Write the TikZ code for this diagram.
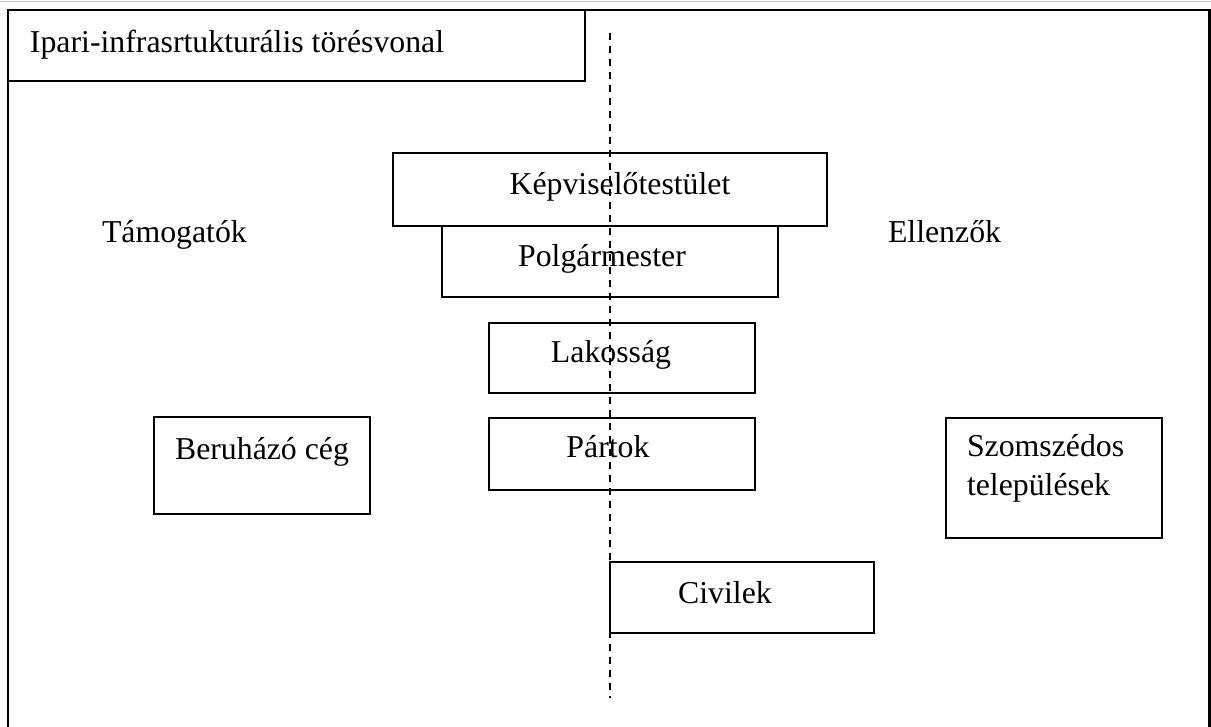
\documentclass[tikz,border=0pt]{standalone}
\usepackage{fontspec}
\setmainfont{Liberation Serif}
\begin{document}
\begin{tikzpicture}[x=0.5pt,y=-0.5pt,
  box/.style={draw=black,line width=1.4pt,rectangle,inner sep=0pt,outer sep=0pt},
  txt/.style={inner sep=0pt,outer sep=0pt,font=\fontsize{15.9}{19}\selectfont},
  divider/.style={line width=1.2pt,dash pattern=on 3.5pt off 3pt},
  frame/.style={line width=1.2pt}]
\useasboundingbox (0,0) rectangle (1211,727);
% faint top edge
\coordinate (el) at (0,1.5);
\coordinate (er) at (1211,1.5);
\draw[gray!45,line width=0.6pt] (el) -- (er);
% outer frame
\coordinate (tl) at (8,10);
\coordinate (tr) at (1209.5,10);
\coordinate (br) at (1209.5,727);
\coordinate (bl) at (8,727);
\draw[frame] (bl) -- (tl) -- (tr) -- (br);
% title box
\node[box,minimum width=288.5pt,minimum height=35.5pt] (title) at (296.5,45.5) {};
\node[txt,anchor=base west] (titlet) at (30,53) {Ipari-infrasrtukturális törésvonal};
% boxes
\node[box,minimum width=217pt,minimum height=36.5pt] (kep) at (610,189.5) {};
\node[box,minimum width=168pt,minimum height=35.5pt] (pol) at (610,261.5) {};
\node[box,minimum width=133pt,minimum height=35pt] (lak) at (622,358) {};
\node[box,minimum width=133pt,minimum height=36pt] (par) at (622,454) {};
\node[box,minimum width=108pt,minimum height=48.5pt] (ber) at (262,465.5) {};
\node[box,minimum width=108pt,minimum height=60pt] (szo) at (1054,478) {};
\node[box,minimum width=132pt,minimum height=35.5pt] (civ) at (742,597.5) {};
% texts
\node[txt,anchor=base] (kept) at (620,195) {Képviselőtestület};
\node[txt,anchor=base] (polt) at (602,267) {Polgármester};
\node[txt,anchor=base] (lakt) at (611,363) {Lakosság};
\node[txt,anchor=base] (part) at (608,458) {Pártok};
\node[txt,anchor=base] (bert) at (262,459) {Beruházó cég};
\node[txt,anchor=base west] (szot1) at (967,457) {Szomszédos};
\node[txt,anchor=base west] (szot2) at (967,495) {települések};
\node[txt,anchor=base] (civt) at (725,603) {Civilek};
\node[txt,anchor=base west] (tam) at (102,243) {Támogatók};
\node[txt,anchor=base west] (ell) at (888,243) {Ellenzők};
% dashed divider
\coordinate (dtop) at (610,33);
\coordinate (dbot) at (610,698);
\draw[divider] (dtop) -- (dbot);
\end{tikzpicture}
\end{document}
